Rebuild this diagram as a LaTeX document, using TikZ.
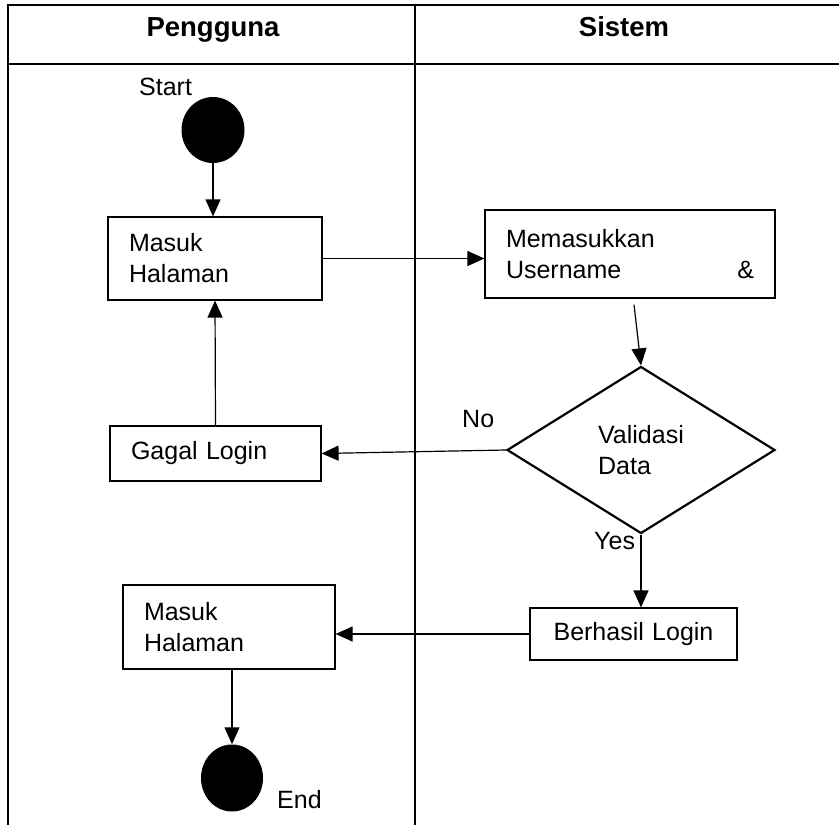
\documentclass[tikz,border=0pt]{standalone}
\usepackage{fontspec}
\setmainfont{Liberation Sans}
\usepackage{tikz}
\usetikzlibrary{shapes.geometric,arrows.meta}
\tikzstyle{block} = [rectangle, draw, line width=1.2pt, inner xsep=21pt, inner ysep=0pt]
\tikzstyle{decision} = [diamond, draw, line width=2.2pt, inner sep=0pt,
    minimum width=268pt, minimum height=167pt, align=left]
\tikzstyle{state} = [ellipse, fill=black, inner sep=0pt]
\tikzstyle{line} = [draw, line width=1.2pt, -{Triangle[length=17pt,width=15pt]}]
\tikzstyle{lane} = [draw, line width=1.5pt]
\tikzstyle{tag} = [inner sep=0pt, anchor=base west]
\tikzstyle{head} = [inner sep=0pt, anchor=base, font=\bfseries\fontsize{27.5pt}{33pt}\selectfont]

\begin{document}
\begin{tikzpicture}[node distance=100pt]
  \fontsize{25pt}{31pt}\selectfont
  \useasboundingbox (0pt,0pt) rectangle (839pt,-825pt);

    % Draw swimlanes
    \path [lane] (8pt,-825pt) -- (8pt,-5pt) -- (839pt,-5pt);
    \path [lane] (8pt,-64pt) -- (839pt,-64pt);
    \path [lane] (415pt,-5pt) -- (415pt,-825pt);
    \node [head] (pengguna) at (213pt,-36pt) {Pengguna};
    \node [head] (sistem) at (624pt,-36pt) {Sistem};

    % Place nodes
    \node [state, minimum width=63pt, minimum height=66pt] (start) at (213pt,-130pt) {};
    \node [block, below of=start, node distance=128.5pt, xshift=2pt,
        text width=172pt, minimum height=83pt, align=left] (masuk) {Masuk\\Halaman};
    \node [block, right of=masuk, node distance=415pt, yshift=4.5pt,
        text width=248pt, minimum height=88pt, align=left] (memasukkan) {Memasukkan\\Username \hfill \&};
    \node [decision, below of=memasukkan, node distance=196pt, xshift=11pt] (validasi) {Validasi\\Data};
    \node [block, left of=validasi, node distance=425.5pt, yshift=-3.5pt,
        text width=169pt, minimum height=55pt, align=left] (gagal) {Gagal Login};
    \node [block, below of=validasi, node distance=184pt, xshift=-7.5pt,
        text width=165pt, minimum height=52pt, align=center] (berhasil) {Berhasil Login};
    \node [block, left of=berhasil, node distance=404.5pt, yshift=7pt,
        text width=170pt, minimum height=84pt, align=left] (masukLagi) {Masuk\\Halaman};
    \node [state, below of=masukLagi, node distance=151pt, xshift=3pt,
        minimum width=62pt, minimum height=67pt] (end) {};

    % Labels
    \node [tag] (startText) at (139pt,-95pt) {Start};
    \node [tag] (endText) at (277pt,-808pt) {End};
    \node [tag] (noText) at (462pt,-427pt) {No};
    \node [tag] (yesText) at (594pt,-549pt) {Yes};

    % Draw edges
    \path [line] (start) -- (start |- masuk.north);
    \path [line] (masuk.east) -- (masuk.east -| memasukkan.west);
    \path [line] ([shift={(4pt,-6pt)}]memasukkan.south) -- (validasi.north);
    \path [line] (validasi.west) -- (gagal.east);
    \path [line] (gagal.north) -- (masuk.south);
    \path [line] (validasi.south) -- (validasi.south |- berhasil.north);
    \path [line] (berhasil.west) -- (berhasil.west -| masukLagi.east);
    \path [line] (end.north |- masukLagi.south) -- (end.north);

\end{tikzpicture}
\end{document}
